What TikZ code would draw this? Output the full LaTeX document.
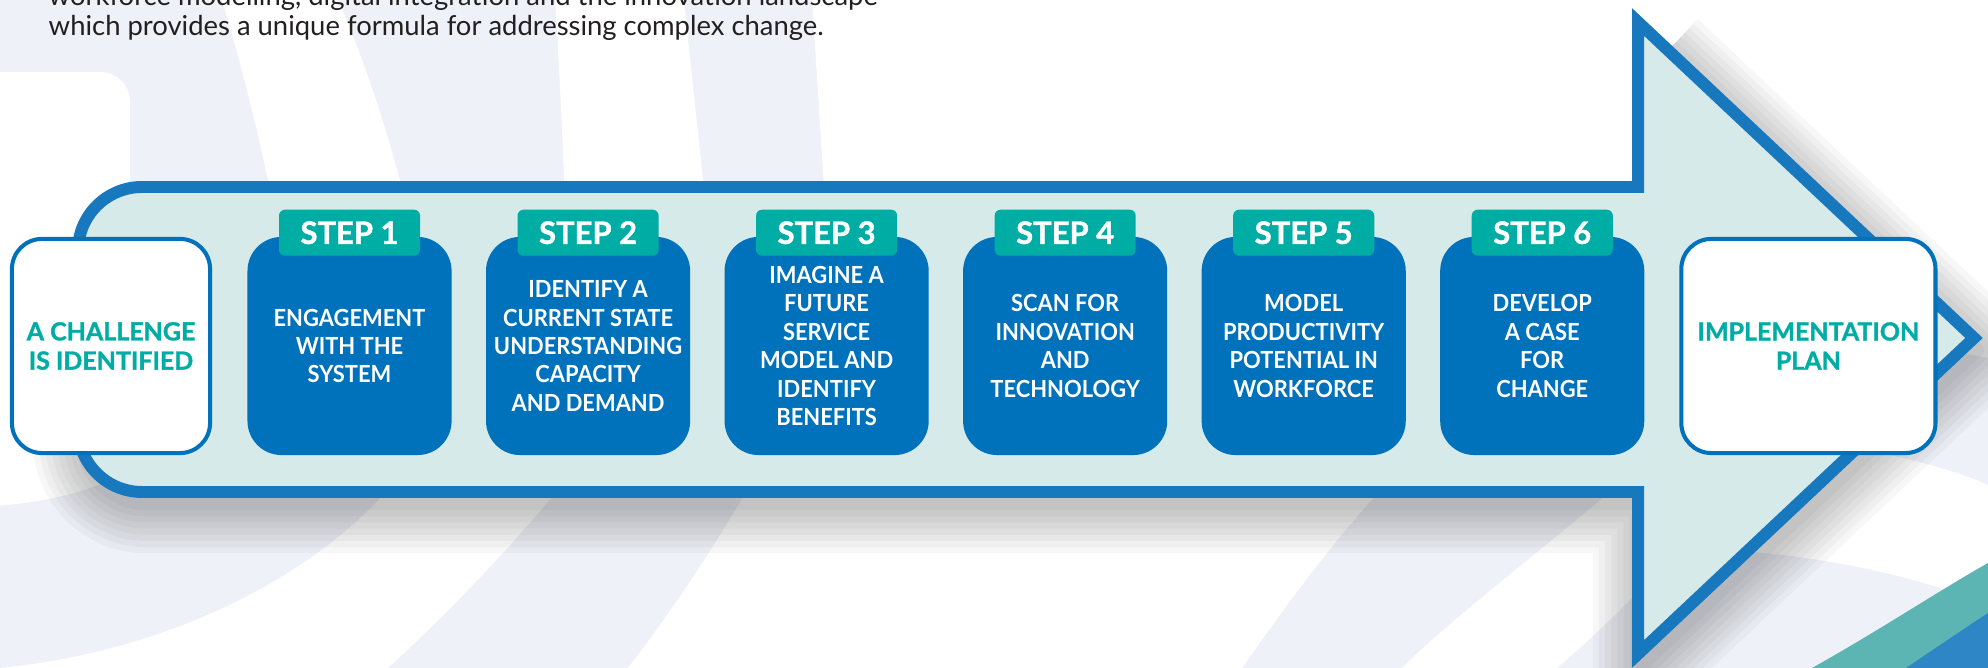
\documentclass[tikz,border=0pt]{standalone}
\usepackage{fontspec}
\setmainfont{Lato}
\newfontfamily\heavyfont{Lato}[BoldFeatures={FakeBold=1.2}]
\newfontfamily\narrowfont{Lato}[FakeStretch=0.93]
\usetikzlibrary{positioning}

\definecolor{bgwash}{HTML}{EEF1F7}
\definecolor{arrowline}{HTML}{1878BE}
\definecolor{arrowfill}{HTML}{D5EAE9}
\definecolor{stepblue}{HTML}{0071BB}
\definecolor{stepteal}{HTML}{00ADA5}
\definecolor{swooshteal}{HTML}{5DB5B3}
\definecolor{swooshblue}{HTML}{2F86C6}
\definecolor{introtext}{HTML}{231F20}

\begin{document}
\begin{tikzpicture}[x=0.01cm,y=-0.01cm,node distance=2.384cm,thin]
\tikzstyle{stepbox}=[fill=stepblue,rounded corners=0.34cm,minimum width=2.04cm,minimum height=2.18cm,inner sep=0pt,text=white,align=center,font=\narrowfont\bfseries\fontsize{6.7}{8.1}\selectfont]
\tikzstyle{endbox}=[draw=stepblue,line width=1.15pt,fill=white,rounded corners=0.3cm,minimum width=1.98cm,minimum height=2.14cm,inner sep=0pt,text=stepteal,align=center,font=\heavyfont\bfseries\fontsize{7.1}{8.3}\selectfont]
\tikzstyle{tagbox}=[fill=stepteal,rounded corners=0.06cm,minimum width=1.41cm,minimum height=0.46cm,inner sep=0pt,text=white,font=\heavyfont\bfseries\fontsize{8.8}{9}\selectfont]
\tikzstyle{introline}=[anchor=base west,inner sep=0pt,text=introtext,font=\fontsize{7.8}{9}\selectfont]

\useasboundingbox (0,0) rectangle (1988,668);

% background swirls
\fill[bgwash] (0,0) rectangle (1988,668);
\fill[white] (-5,72) -- (100,72) .. controls (117,72) and (130,85) .. (130,102) -- (130,470) .. controls (95,490) and (50,502) .. (-5,506) -- cycle;
\fill[white] (222,0) .. controls (240,60) and (258,130) .. (272,200) -- (405,200) .. controls (385,120) and (360,50) .. (338,0) -- cycle;
\fill[white] (555,0) .. controls (559,60) and (562,130) .. (565,200) -- (705,200) .. controls (698,130) and (690,60) .. (684,0) -- cycle;
\fill[white] (812,0) .. controls (816,60) and (820,130) .. (825,200) -- (1988,200) -- (1988,0) -- cycle;
\fill[white] (1640,200) -- (1988,200) -- (1988,358) .. controls (1950,350) and (1900,345) .. (1860,345) -- (1640,345) -- cycle;
\fill[white] (0,668) .. controls (180,650) and (320,570) .. (392,485) -- (562,485) .. controls (500,560) and (440,620) .. (388,668) -- cycle;
\fill[white] (750,485) .. controls (715,545) and (680,600) .. (628,668) -- (1242,668) .. controls (1290,600) and (1330,545) .. (1385,485) -- cycle;
\fill[white] (1618,485) .. controls (1530,560) and (1450,620) .. (1402,668) -- (1557,668) .. controls (1590,640) and (1615,615) .. (1640,590) -- (1640,485) -- cycle;
\fill[white] (1690,430) .. controls (1800,435) and (1920,455) .. (1988,485) -- (1988,605) .. controls (1900,570) and (1800,552) .. (1690,548) -- cycle;
\fill[swooshteal] (1812,668) .. controls (1880,630) and (1940,590) .. (1988,563) -- (1988,668) -- cycle;
\fill[swooshblue] (1906,668) .. controls (1940,645) and (1965,628) .. (1988,613) -- (1988,668) -- cycle;

% soft shadow of the arrow
\foreach \w in {1,...,8}
  \draw[black,opacity=0.03,line width=\w*3.5pt,line join=round,shift={(4,12)}] (78,430) [rounded corners=0.64cm] -- (78,492) -- (900,492) [sharp corners] -- (1638,492) -- (1638,654) -- (1974,338) -- (1660,43);

% the arrow
\draw[draw=arrowline,fill=arrowfill,line width=3.4pt,line join=miter] (900,187) [rounded corners=0.64cm] -- (78,187) -- (78,492) -- (900,492) [sharp corners] -- (1638,492) -- (1638,654) -- (1974,338) -- (1638,22) -- (1638,187) -- cycle;

% intro text
\node[introline] (intro1) at (48,6) {workforce modelling, digital integration and the innovation landscape};
\node[introline] (intro2) at (48,36) {which provides a unique formula for addressing complex change.};

% boxes
\node[endbox]  (start) at (111,346)  {A CHALLENGE\\IS IDENTIFIED};
\node[stepbox] (s1) [right of=start] {ENGAGEMENT\\WITH THE\\SYSTEM};
\node[stepbox] (s2) [right of=s1]    {IDENTIFY A\\CURRENT STATE\\UNDERSTANDING\\CAPACITY\\AND DEMAND};
\node[stepbox] (s3) [right of=s2]    {IMAGINE A\\FUTURE\\SERVICE\\MODEL AND\\IDENTIFY\\BENEFITS};
\node[stepbox] (s4) [right of=s3]    {SCAN FOR\\INNOVATION\\AND\\TECHNOLOGY};
\node[stepbox] (s5) [right of=s4]    {MODEL\\PRODUCTIVITY\\POTENTIAL IN\\WORKFORCE};
\node[stepbox] (s6) [right of=s5]    {DEVELOP\\A CASE\\FOR\\CHANGE};
\node[endbox,minimum width=2.54cm] (plan) [right of=s6,node distance=2.66cm] {IMPLEMENTATION\\PLAN};

% step tags
\node[tagbox] (t1) at ([yshift=1pt]s1.north) {STEP 1};
\node[tagbox] (t2) at ([yshift=1pt]s2.north) {STEP 2};
\node[tagbox] (t3) at ([yshift=1pt]s3.north) {STEP 3};
\node[tagbox] (t4) at ([yshift=1pt]s4.north) {STEP 4};
\node[tagbox] (t5) at ([yshift=1pt]s5.north) {STEP 5};
\node[tagbox] (t6) at ([yshift=1pt]s6.north) {STEP 6};
\end{tikzpicture}
\end{document}
